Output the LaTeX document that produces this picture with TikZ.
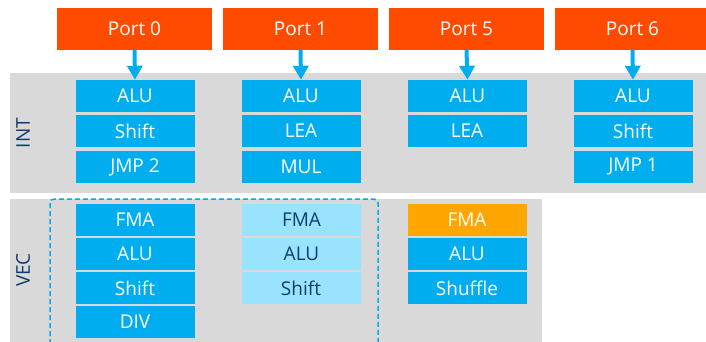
\documentclass[tikz,border=0pt]{standalone}
\usepackage{fontspec}
\setmainfont{Open Sans}
\usetikzlibrary{arrows.meta}
\definecolor{portc}{HTML}{FF4B00}
\definecolor{bluec}{HTML}{00AEEF}
\definecolor{lightc}{HTML}{99E3FF}
\definecolor{orangec}{HTML}{FFA600}
\definecolor{grayc}{HTML}{D9D9D9}
\definecolor{navyc}{HTML}{0F3D6E}
\tikzset{
  portbox/.style={fill=portc, text=white, minimum width=155pt, minimum height=42pt, inner sep=0pt, font=\fontsize{19}{22}\selectfont},
  unit/.style={fill=bluec, text=white, minimum width=119pt, minimum height=32pt, inner sep=0pt, font=\fontsize{19}{22}\selectfont},
  lightunit/.style={unit, fill=lightc, text=navyc},
  orangeunit/.style={unit, fill=orangec},
  band/.style={fill=grayc, draw=none},
  bandlabel/.style={text=navyc, rotate=90, font=\fontsize{19}{22}\selectfont, inner sep=0pt},
  feed/.style={draw=bluec, line width=4pt, -{Triangle[width=15pt,length=14pt]}},
  group/.style={draw=bluec, line width=1.5pt, dash pattern=on 5pt off 3pt, rounded corners=4pt}
}
\begin{document}
\begin{tikzpicture}[x=1pt,y=-1pt]
\useasboundingbox (0,0) rectangle (706,342);
% bands
\fill[band] (10,73) rectangle (706,193);
\fill[band] (10,199) rectangle (542,342);
\node[bandlabel] (intlab) at (23,133) {INT};
\node[bandlabel] (veclab) at (23,270) {VEC};
% dashed group
\draw[group] (50,360) -- (50,199) -- (378,199) -- (378,360);
% ports
\node[portbox] (p0) at (134.5,29) {Port 0};
\node[portbox] (p1) at (300.5,29) {Port 1};
\node[portbox] (p5) at (466.5,29) {Port 5};
\node[portbox] (p6) at (632.5,29) {Port 6};
% INT units
\node[unit] (i0a) at (135,96) {ALU};
\node[unit] (i0b) at (135,131) {Shift};
\node[unit] (i0c) at (135,167) {JMP 2};
\node[unit] (i1a) at (301,96) {ALU};
\node[unit] (i1b) at (301,131) {LEA};
\node[unit] (i1c) at (301,167) {MUL};
\node[unit] (i5a) at (467.5,96) {ALU};
\node[unit] (i5b) at (467,131) {LEA};
\node[unit] (i6a) at (633,96) {ALU};
\node[unit] (i6b) at (633,131) {Shift};
\node[unit] (i6c) at (633,167) {JMP 1};
% VEC units
\node[unit] (v0a) at (135,220) {FMA};
\node[unit] (v0b) at (135,254) {ALU};
\node[unit] (v0c) at (135,288) {Shift};
\node[unit] (v0d) at (135,322) {DIV};
\node[lightunit] (v1a) at (301.5,220) {FMA};
\node[lightunit] (v1b) at (301.5,254) {ALU};
\node[lightunit] (v1c) at (301,288) {Shift};
\node[orangeunit] (v5a) at (467,220) {FMA};
\node[unit] (v5b) at (467,254) {ALU};
\node[unit] (v5c) at (467,288) {Shuffle};
% arrows
\draw[feed] (p0.south) -- (i0a.north);
\draw[feed] (p1.south) -- (i1a.north);
\draw[feed] (p5.south) -- (i5a.north);
\draw[feed] (p6.south) -- (i6a.north);
\end{tikzpicture}
\end{document}
